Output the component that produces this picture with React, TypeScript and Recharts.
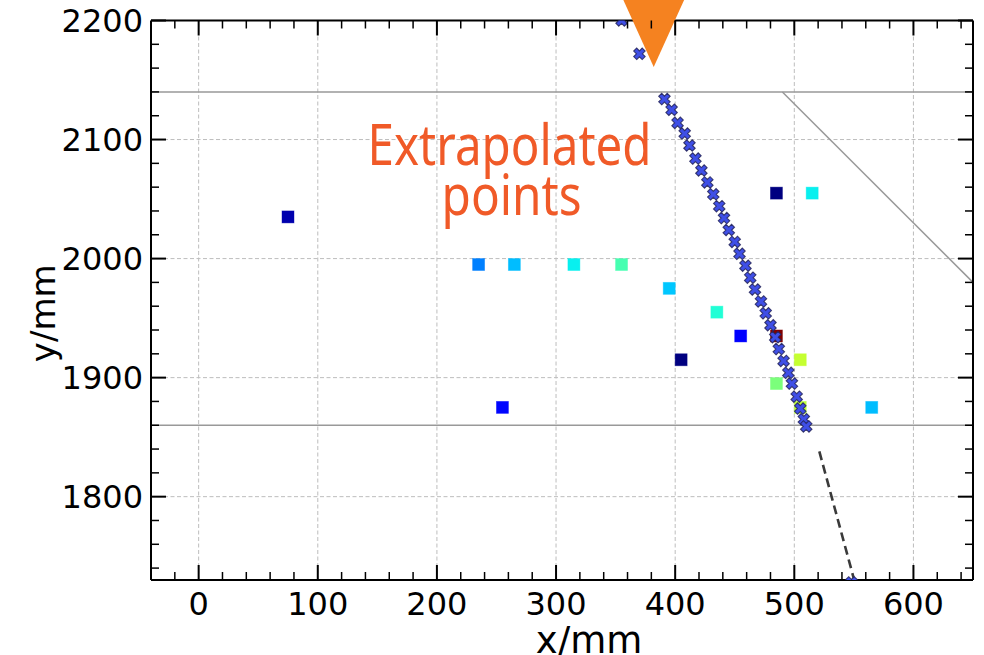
import React from 'react';
import { ScatterChart, Scatter, XAxis, YAxis, ReferenceLine, ReferenceDot } from 'recharts';

// ---------- axes ----------
const xDomain = [-40, 650];
const yDomain = [1730, 2200];
const xTicks = [-20, 0, 20, 40, 60, 80, 100, 120, 140, 160, 180, 200, 220, 240, 260, 280, 300, 320, 340, 360, 380, 400, 420, 440, 460, 480, 500, 520, 540, 560, 580, 600, 620, 640];
const yTicks = [1740, 1760, 1780, 1800, 1820, 1840, 1860, 1880, 1900, 1920, 1940, 1960, 1980, 2000, 2020, 2040, 2060, 2080, 2100, 2120, 2140, 2160, 2180, 2200];
const xGrid = [0, 100, 200, 300, 400, 500, 600];
const yGrid = [1800, 1900, 2000, 2100];

// ---------- hits (coloured squares) ----------
const squareX = [75, 235, 265, 315, 355, 395, 435, 455, 405, 485, 485, 515, 505, 485, 505, 255, 565];
const squareY = [2035, 1995, 1995, 1995, 1995, 1975, 1955, 1935, 1915, 1935, 2055, 2055, 1915, 1895, 1875, 1875, 1875];
const squareValue = [0.04, 0.25, 0.31, 0.36, 0.435, 0.32, 0.39, 0.125, 0.0, 1.0, 0.0, 0.36, 0.59, 0.5, 0.58, 0.13, 0.31];

// ---------- extrapolated track points ----------
const trackX = [355, 370, 391, 397, 402, 408, 412, 417, 422, 427, 432, 437, 441, 445, 450, 454, 459, 463, 467, 472, 476, 480, 484, 487, 491, 495, 498, 502, 505, 508, 510, 548];
const trackY = [2200, 2172, 2134, 2125, 2114, 2105, 2095, 2084, 2074, 2064, 2054, 2044, 2034, 2024, 2014, 2004, 1994, 1984, 1974, 1964, 1954, 1944, 1934, 1924, 1914, 1904, 1895, 1884, 1874, 1865, 1859, 1728];

// ---------- geometry lines ----------
const boundaryY = [2140, 1860];
const diagLine = [{ x: 490, y: 2140 }, { x: 650, y: 1980 }];
const dashedLine = [{ x: 521, y: 1838 }, { x: 550, y: 1731 }];

// ---------- annotations ----------
const arrowTip = { x: 382, y: 2161 };
const textAnchorPt = { x: 261, y: 2079 };
const annotationLines = ['Extrapolated', 'points'];

const squares = squareX.map((x, i) => ({ x, y: squareY[i], v: squareValue[i] }));
const track = trackX.map((x, i) => ({ x, y: trackY[i] }));

function interp(v: number, pts: number[][]) {
  for (let i = 0; i < pts.length - 1; i++) {
    const [x0, y0] = pts[i];
    const [x1, y1] = pts[i + 1];
    if (v >= x0 && v <= x1) return y0 + ((v - x0) / (x1 - x0)) * (y1 - y0);
  }
  return pts[pts.length - 1][1];
}
function jet(v: number) {
  const r = interp(v, [[0, 0], [0.35, 0], [0.66, 1], [0.89, 1], [1, 0.5]]);
  const g = interp(v, [[0, 0], [0.125, 0], [0.375, 1], [0.64, 1], [0.91, 0], [1, 0]]);
  const b = interp(v, [[0, 0.5], [0.11, 1], [0.34, 1], [0.65, 0], [1, 0]]);
  return `rgb(${Math.round(r * 255)},${Math.round(g * 255)},${Math.round(b * 255)})`;
}

const FONT = '"DejaVu Sans", sans-serif';

const SquareShape = (props: any) => {
  const { cx, cy, payload } = props;
  const s = 12;
  return <rect x={cx - s / 2} y={cy - s / 2} width={s} height={s} fill={jet(payload.v)} stroke={jet(payload.v)} strokeOpacity={0.5} strokeWidth={0.8} />;
};

const CrossShape = (props: any) => {
  const { cx, cy } = props;
  const L = 6.0;
  const w = 2.1;
  const base = [[w, L], [w, w], [L, w], [L, -w], [w, -w], [w, -L], [-w, -L], [-w, -w], [-L, -w], [-L, w], [-w, w], [-w, L]];
  const pts = base
    .map(([x, y]) => `${cx + (x - y) / Math.SQRT2},${cy + (x + y) / Math.SQRT2}`)
    .join(' ');
  return <polygon points={pts} fill="#3f4fe6" stroke="#25255c" strokeWidth={1.1} strokeOpacity={0.85} />;
};

const TriangleShape = (props: any) => {
  const { cx, cy } = props;
  const h = 80;
  const hw = h * 0.454;
  return <polygon points={`${cx - hw},${cy - h} ${cx + hw},${cy - h} ${cx},${cy}`} fill="#F58220" />;
};

const TextShape = (props: any) => {
  const { cx, cy } = props;
  return (
    <g>
      <text x={cx} y={cy} textAnchor="middle" fontSize={57} fill="#F05A28" fontFamily='"Noto Sans", sans-serif' textLength={284} lengthAdjust="spacingAndGlyphs">
        {annotationLines[0]}
      </text>
      <text x={cx + 2} y={cy + 50} textAnchor="middle" fontSize={57} fill="#F05A28" fontFamily='"Noto Sans", sans-serif' textLength={140} lengthAdjust="spacingAndGlyphs">
        {annotationLines[1]}
      </text>
    </g>
  );
};

const isMajor = (v: number) => v % 100 === 0;

const BottomTick = (props: any) => {
  const { x, y, payload } = props;
  const v = payload.value;
  const major = isMajor(v);
  return (
    <g>
      <line x1={x} x2={x} y1={y} y2={y - (major ? 15 : 8)} stroke="#000" strokeWidth={major ? 2 : 1.5} />
      {major && (
        <text x={x} y={y + 34.5} textAnchor="middle" fontSize={32} fontFamily={FONT} fill="#000">
          {v}
        </text>
      )}
    </g>
  );
};
const TopTick = (props: any) => {
  const { x, y, payload } = props;
  const major = isMajor(payload.value);
  return <line x1={x} x2={x} y1={y} y2={y + (major ? 15 : 8)} stroke="#000" strokeWidth={major ? 2 : 1.5} />;
};
const LeftTick = (props: any) => {
  const { x, y, payload } = props;
  const v = payload.value;
  const major = isMajor(v);
  return (
    <g>
      <line x1={x} x2={x + (major ? 15 : 8)} y1={y} y2={y} stroke="#000" strokeWidth={major ? 2 : 1.5} />
      {major && (
        <text x={x - 8} y={y + 11.5} textAnchor="end" fontSize={32} fontFamily={FONT} fill="#000">
          {v}
        </text>
      )}
    </g>
  );
};
const RightTick = (props: any) => {
  const { x, y, payload } = props;
  const major = isMajor(payload.value);
  return <line x1={x} x2={x - (major ? 15 : 8)} y1={y} y2={y} stroke="#000" strokeWidth={major ? 2 : 1.5} />;
};

const XLabel = (props: any) => {
  const vb = props.viewBox || {};
  return (
    <text x={vb.x + vb.width / 2 + 27} y={vb.y + 73} textAnchor="middle" fontSize={37} fontFamily={FONT} fill="#000">
      x/mm
    </text>
  );
};
const YLabel = (props: any) => {
  const vb = props.viewBox || {};
  const cx = 55;
  const cy = vb.y + vb.height / 2 + 13;
  return (
    <text x={cx} y={cy} textAnchor="middle" fontSize={34} fontFamily={FONT} fill="#000" transform={`rotate(-90 ${cx} ${cy})`}>
      y/mm
    </text>
  );
};

export default function App() {
  const axisLine = { stroke: '#000', strokeWidth: 2 };
  return (
    <div style={{ position: 'absolute', left: 0, top: 0, width: 984, height: 655, background: '#fff' }}>
      <ScatterChart width={984} height={655} margin={{ top: 19.5, right: 10, bottom: 0, left: 0 }}>
        <XAxis xAxisId="b" type="number" dataKey="x" orientation="bottom" domain={xDomain} allowDataOverflow ticks={xTicks} interval={0} height={75} tickSize={0} tickMargin={0} tickLine={false} axisLine={axisLine} tick={BottomTick} label={XLabel} />
        <XAxis xAxisId="t" type="number" dataKey="x" orientation="top" domain={xDomain} allowDataOverflow ticks={xTicks} interval={0} height={1} tickSize={0} tickMargin={0} tickLine={false} axisLine={axisLine} tick={TopTick} />
        <YAxis yAxisId="l" type="number" dataKey="y" orientation="left" domain={yDomain} allowDataOverflow ticks={yTicks} interval={0} width={151} tickSize={0} tickMargin={0} tickLine={false} axisLine={axisLine} tick={LeftTick} label={YLabel} />
        <YAxis yAxisId="r" type="number" dataKey="y" orientation="right" domain={yDomain} allowDataOverflow ticks={yTicks} interval={0} width={1} tickSize={0} tickMargin={0} tickLine={false} axisLine={axisLine} tick={RightTick} />

        {xGrid.map((v) => (
          <ReferenceLine key={'gx' + v} xAxisId="b" yAxisId="l" x={v} stroke="#bdbdbd" strokeWidth={1} strokeDasharray="4 2.5" />
        ))}
        {yGrid.map((v) => (
          <ReferenceLine key={'gy' + v} xAxisId="b" yAxisId="l" y={v} stroke="#bdbdbd" strokeWidth={1} strokeDasharray="4 2.5" />
        ))}
        {boundaryY.map((v) => (
          <ReferenceLine key={'by' + v} xAxisId="b" yAxisId="l" y={v} stroke="#999" strokeWidth={1.5} />
        ))}
        <ReferenceLine xAxisId="b" yAxisId="l" segment={diagLine} stroke="#999" strokeWidth={1.5} ifOverflow="visible" />
        <ReferenceLine xAxisId="b" yAxisId="l" segment={dashedLine} stroke="#3a3a3a" strokeWidth={2.6} strokeDasharray="9 5" ifOverflow="visible" />

        <Scatter xAxisId="b" yAxisId="l" data={squares} shape={SquareShape} isAnimationActive={false} />
        <Scatter xAxisId="b" yAxisId="l" data={track} shape={CrossShape} isAnimationActive={false} />

        <ReferenceDot xAxisId="b" yAxisId="l" x={arrowTip.x} y={arrowTip.y} r={1} ifOverflow="visible" shape={TriangleShape} />
        <ReferenceDot xAxisId="b" yAxisId="l" x={textAnchorPt.x} y={textAnchorPt.y} r={1} ifOverflow="visible" shape={TextShape} />
      </ScatterChart>
    </div>
  );
}
